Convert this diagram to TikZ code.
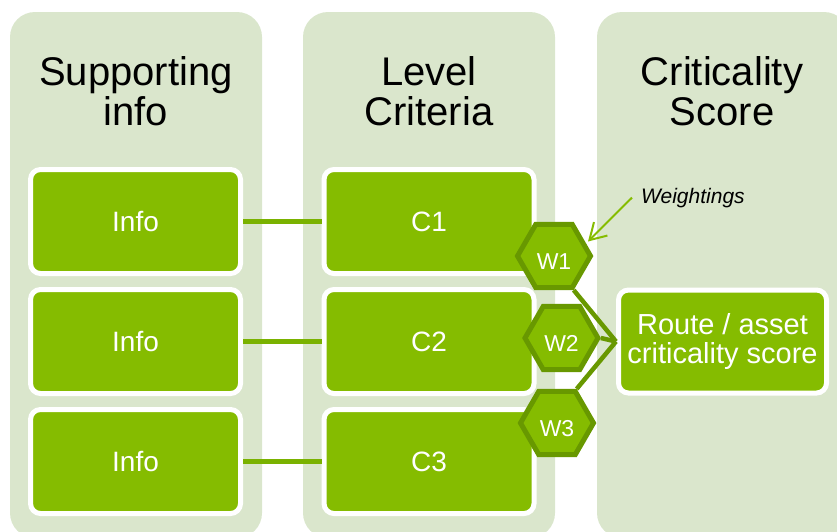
\documentclass[tikz,border=0pt]{standalone}
\usepackage{fontspec}
\setmainfont{Liberation Sans}
\usetikzlibrary{shapes.geometric,arrows.meta}

\definecolor{panelgreen}{RGB}{218,230,204}
\definecolor{boxgreen}{RGB}{133,188,0}
\definecolor{hexgreen}{RGB}{104,152,0}
\definecolor{linkgreen}{RGB}{122,178,0}

\begin{document}
\begin{tikzpicture}[x=1pt,y=-1pt,
    panel/.style={fill=panelgreen,rounded corners=25pt},
    heading/.style={align=center,font=\fontsize{40}{40}\selectfont},
    box/.style={draw=white,line width=5pt,fill=boxgreen,rounded corners=10pt,
      minimum width=210pt,minimum height=104pt,text=white,align=center,
      font=\fontsize{28}{29.5}\selectfont},
    weight/.style={regular polygon,regular polygon sides=6,draw=hexgreen,
      line width=5pt,fill=boxgreen,minimum size=73pt,inner sep=0pt,
      text height=26pt,text depth=0pt,
      text=white,font=\fontsize{23}{23}\selectfont}]
  \clip (0,0) rectangle (837,531);
  % columns
  \fill[panel] (10,12) rectangle (262,538);
  \fill[panel] (303,12) rectangle (555,538);
  \fill[panel] (597,12) rectangle (849,538);
  \node[heading] (tsup) at (136,91) {Supporting\\info};
  \node[heading] (tlev) at (429,91) {Level\\Criteria};
  \node[heading] (tcrit) at (722,91) {Criticality\\Score};
  % boxes
  \node[box] (info1) at (135.5,221.5) {Info};
  \node[box] (info2) at (135.5,341.5) {Info};
  \node[box] (info3) at (135.5,461.5) {Info};
  \node[box] (c1) at (429,221.5) {C1};
  \node[box] (c2) at (429,341.5) {C2};
  \node[box] (c3) at (429,461.5) {C3};
  \node[box,minimum width=208pt,minimum height=103pt,
    font=\fontsize{29}{29.5}\selectfont] (route)
    at (722.5,341.5) {Route / asset\\criticality score};
  \begin{scope}[linkgreen,line width=5pt]
    \draw (info1) to (c1);
    \draw (info2) to (c2);
    \draw (info3) to (c3);
  \end{scope}
  % weightings
  \node[weight] (w1) at (554,256) {W1};
  \node[weight] (w2) at (561.5,338) {W2};
  \node[weight] (w3) at (557,423) {W3};
  \begin{scope}[hexgreen,line width=4.5pt]
    \draw (w1.-60) to (route.west);
    \draw (w2.0) to (route.west);
    \draw (w3.60) to (route.west);
  \end{scope}
  \node[anchor=base west,inner sep=1pt,font=\itshape\fontsize{21}{21}\selectfont]
    (wlabel) at (640,203) {Weightings};
  \coordinate (wtip) at (588,241.5);
  \draw[boxgreen,line width=2pt,-{Straight Barb[length=16pt,width=19pt]}]
    (wlabel.west) ++(-8,0) -- (wtip);
\end{tikzpicture}
\end{document}
